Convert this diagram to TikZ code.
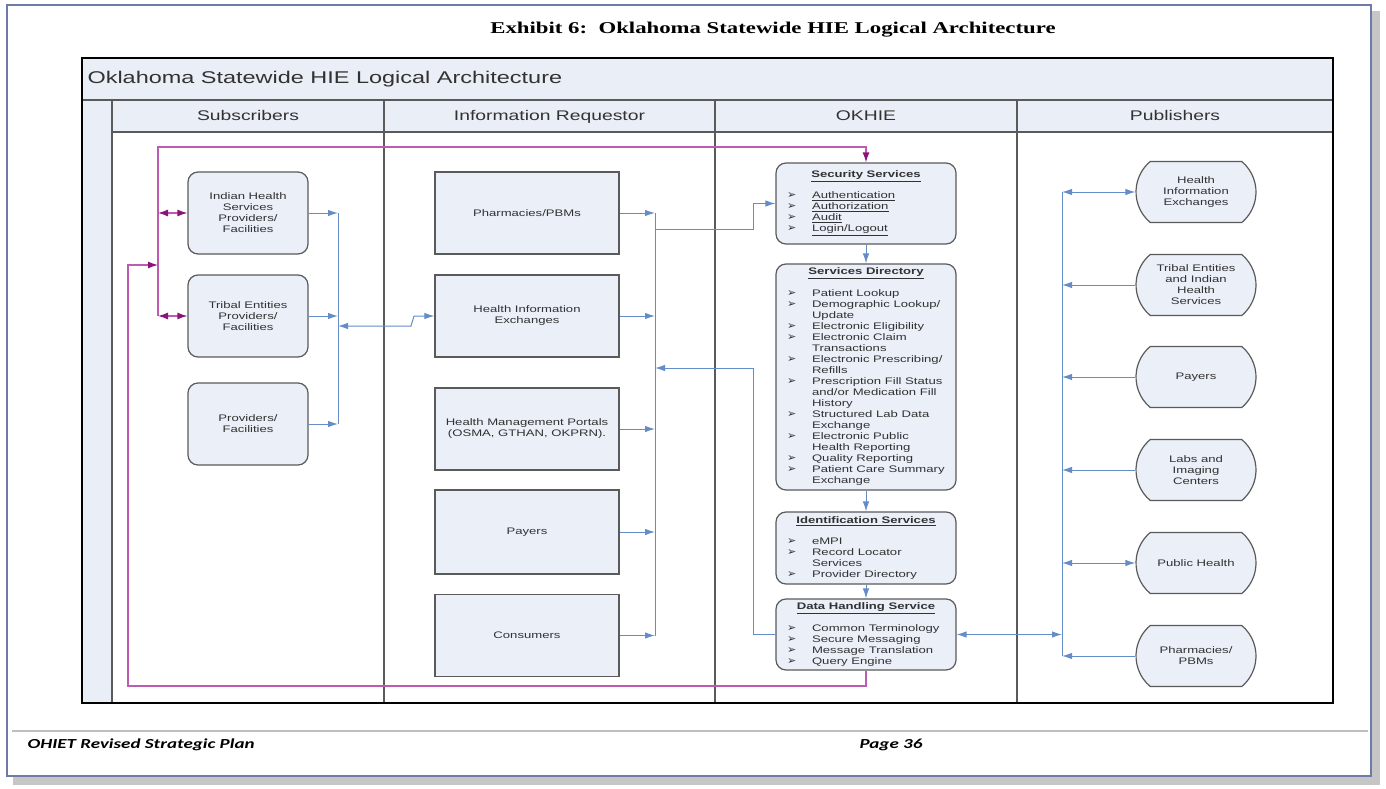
\documentclass[tikz,border=0pt]{standalone}
\usepackage{fontspec}
\setmainfont{Liberation Sans}[FakeStretch=1.38]
\newfontfamily\exhibitfont{Liberation Serif}[FakeStretch=1.38]
\newfontfamily\footerfont{Carlito}[FakeStretch=1.38]
\newfontfamily\bulletfont{DejaVu Sans}
\usetikzlibrary{arrows.meta,shapes.misc}

\definecolor{boxfill}{RGB}{234,239,248}
\definecolor{boxline}{RGB}{90,90,90}
\definecolor{lanefill}{RGB}{234,238,247}
\definecolor{flowblue}{RGB}{100,140,200}
\definecolor{flowpurple}{RGB}{190,90,175}
\definecolor{tippurple}{RGB}{140,20,120}
\definecolor{pageframe}{RGB}{112,122,168}
\definecolor{textgray}{RGB}{50,50,50}

\newcommand\okitem[1]{\makebox[25pt][l]{\bulletfont\fontsize{11}{11}\selectfont ➢}#1}
\newcommand\okcont[1]{\makebox[25pt]{}#1}

\tikzset{
  boxtext/.style={font=\fontsize{9.5}{11}\selectfont, text=textgray, align=center},
  subbox/.style={boxtext, draw=boxline, fill=boxfill, line width=1.2pt, rounded corners=10pt, minimum width=120pt, minimum height=82pt},
  reqbox/.style={boxtext, draw=boxline, fill=boxfill, line width=1.2pt, minimum width=184pt, minimum height=82pt},
  okbox/.style={boxtext, align=left, draw=boxline, fill=boxfill, line width=1.2pt, rounded corners=10pt, minimum width=180pt, inner xsep=0pt, inner ysep=2pt},
  pubbox/.style={boxtext, rounded rectangle, rounded rectangle arc length=100, draw=boxline, fill=boxfill, line width=1.2pt, minimum width=122pt, minimum height=61pt, inner sep=1pt},
  lanehead/.style={font=\fontsize{14}{16}\selectfont, text=textgray, anchor=base},
  blueflow/.style={color=flowblue, line width=1pt},
  purpleflow/.style={color=flowpurple, line width=1.2pt},
  btip/.tip={Latex[length=10pt,width=6.5pt]},
  ptip/.tip={Latex[length=10pt,width=7pt,color=tippurple]},
}

\begin{document}
\begin{tikzpicture}[x=1pt,y=-1pt]
\useasboundingbox (0,0) rectangle (1386,789);

% page
\fill[gray!45] (13,11) rectangle (1380,785);
\draw[pageframe, line width=2pt, fill=white] (7,5) rectangle (1371,776);
\node[font=\exhibitfont\bfseries\fontsize{16.5}{18}\selectfont] (exhibit) at (773,30) {Exhibit 6:\ \ Oklahoma Statewide HIE Logical Architecture};

% swimlanes
\fill[lanefill] (82,58) rectangle (1333,132);
\fill[lanefill] (82,100) rectangle (112,703);
\draw[boxline, line width=1.2pt] (82,100) -- (1333,100);
\draw[boxline, line width=1.2pt] (112,132) -- (1333,132);
\foreach \x in {112,384,715,1017}
  \draw[boxline, line width=1.5pt] (\x,100) -- (\x,703);
\draw[black, line width=2pt] (82,58) rectangle (1333,703);
\node[anchor=west, font=\fontsize{17}{20}\selectfont, text=textgray] (bartitle) at (84,79) {Oklahoma Statewide HIE Logical Architecture};
\node[lanehead] (hsub) at (248,121) {Subscribers};
\node[lanehead] (hreq) at (549.5,121) {Information Requestor};
\node[lanehead] (hok) at (866,121) {OKHIE};
\node[lanehead] (hpub) at (1175,121) {Publishers};

% subscribers
\node[subbox] (ihs) at (248,213) {Indian Health\\Services\\Providers/\\Facilities};
\node[subbox] (tri) at (248,316) {Tribal Entities\\Providers/\\Facilities};
\node[subbox] (prv) at (248,424) {Providers/\\Facilities};

% information requestors
\node[reqbox] (pha) at (527,213) {Pharmacies/PBMs};
\node[reqbox] (hiex) at (527,316) {Health Information\\Exchanges};
\node[reqbox] (hmp) at (527,429) {Health Management Portals\\(OSMA, GTHAN, OKPRN).};
\node[reqbox, minimum height=84pt] (pay) at (527,532) {Payers};
\node[reqbox] (con) at (527,635.5) {Consumers};

% OKHIE
\node[okbox, minimum height=81pt] (sec) at (866,203.5) {\makebox[158pt]{\bfseries\underline{Security Services}}\\[10pt]
  \okitem{\underline{Authentication}}\\
  \okitem{\underline{Authorization}}\\
  \okitem{\underline{Audit}}\\
  \okitem{\underline{Login/Logout}}};
\node[okbox, minimum height=226pt] (dir) at (866,377) {\makebox[158pt]{\bfseries\underline{Services Directory}}\\[11pt]
  \okitem{Patient Lookup}\\
  \okitem{Demographic Lookup/}\\
  \okcont{Update}\\
  \okitem{Electronic Eligibility}\\
  \okitem{Electronic Claim}\\
  \okcont{Transactions}\\
  \okitem{Electronic Prescribing/}\\
  \okcont{Refills}\\
  \okitem{Prescription Fill Status}\\
  \okcont{and/or Medication Fill}\\
  \okcont{History}\\
  \okitem{Structured Lab Data}\\
  \okcont{Exchange}\\
  \okitem{Electronic Public}\\
  \okcont{Health Reporting}\\
  \okitem{Quality Reporting}\\
  \okitem{Patient Care Summary}\\
  \okcont{Exchange}};
\node[okbox, minimum height=72pt] (ids) at (866,548) {\makebox[158pt]{\bfseries\underline{Identification Services}}\\[10pt]
  \okitem{eMPI}\\
  \okitem{Record Locator}\\
  \okcont{Services}\\
  \okitem{Provider Directory}};
\node[okbox, minimum height=71pt] (dh) at (866,634.5) {\makebox[158pt]{\bfseries\underline{Data Handling Service}}\\[11pt]
  \okitem{Common Terminology}\\
  \okitem{Secure Messaging}\\
  \okitem{Message Translation}\\
  \okitem{Query Engine}};

% publishers
\node[pubbox] (phie) at (1196,192) {Health\\Information\\Exchanges};
\node[pubbox] (ptrb) at (1196,285) {Tribal Entities\\and Indian\\Health\\Services};
\node[pubbox] (ppay) at (1196,377) {Payers};
\node[pubbox] (plab) at (1196,470) {Labs and\\Imaging\\Centers};
\node[pubbox] (ppub) at (1196,563) {Public Health};
\node[pubbox] (ppha) at (1196,656) {Pharmacies/\\PBMs};

% subscriber bus
\coordinate (sbtop) at (338,213);
\coordinate (sbbot) at (338,424);
\coordinate (sbmid) at (338,326);
\draw[blueflow] (sbtop) -- (sbbot);
\path[blueflow, -btip]
  (ihs.east) edge (ihs.east -| sbtop)
  (tri.east) edge (tri.east -| sbtop)
  (prv.east) edge (prv.east -| sbtop);
\draw[blueflow, btip-btip] (sbmid) -- (411,326) -- (414,316) -- (hiex.west);

% requestor bus
\coordinate (rqtop) at (655,213);
\coordinate (rqbot) at (655,635.5);
\coordinate (rqout) at (655,229);
\coordinate (rqin) at (655,368);
\draw[blueflow] (rqtop) -- (rqbot);
\path[blueflow, -btip]
  (pha.east) edge (pha.east -| rqtop)
  (hiex.east) edge (hiex.east -| rqtop)
  (hmp.east) edge (hmp.east -| rqtop)
  (pay.east) edge (pay.east -| rqtop)
  (con.east) edge (con.east -| rqtop);
\draw[blueflow, -btip] (rqout) -- (753,229) |- (sec.west);
\draw[blueflow, -btip] (dh.west) -- (753,634.5) |- (rqin);

% OKHIE chain
\path[blueflow, -btip]
  (sec.south) edge (dir.north)
  (dir.south) edge (ids.north)
  (ids.south) edge (dh.north);

% publisher bus
\coordinate (pbtop) at (1062,192);
\coordinate (pbbot) at (1062,656);
\draw[blueflow] (pbtop) -- (pbbot);
\path[blueflow, btip-btip]
  (pbtop) edge (phie.west)
  (ppub.west -| pbtop) edge (ppub.west)
  (dh.east) edge (dh.east -| pbtop);
\path[blueflow, -btip]
  (ptrb.west) edge (ptrb.west -| pbtop)
  (ppay.west) edge (ppay.west -| pbtop)
  (plab.west) edge (plab.west -| pbtop)
  (ppha.west) edge (ppha.west -| pbtop);

% purple loop
\coordinate (pvtop) at (158,147);
\coordinate (pvbot) at (158,316);
\coordinate (pvin) at (158,265);
\draw[purpleflow, -ptip] (pvbot) -- (pvtop) -| (sec.north);
\path[purpleflow, ptip-ptip]
  (ihs.west -| pvtop) edge (ihs.west)
  (tri.west -| pvtop) edge (tri.west);
\draw[purpleflow, -ptip] (dh.south) -- (866,686) -| (128,265) -- (pvin);

% footer
\draw[gray!50, line width=1.5pt] (12,731) -- (1368,731);
\node[anchor=west, font=\footerfont\bfseries\itshape\fontsize{13.8}{15}\selectfont] (footl) at (24,745) {OHIET Revised Strategic Plan};
\node[anchor=west, font=\footerfont\bfseries\itshape\fontsize{13.8}{15}\selectfont] (footr) at (856,745) {Page 36};
\end{tikzpicture}
\end{document}
